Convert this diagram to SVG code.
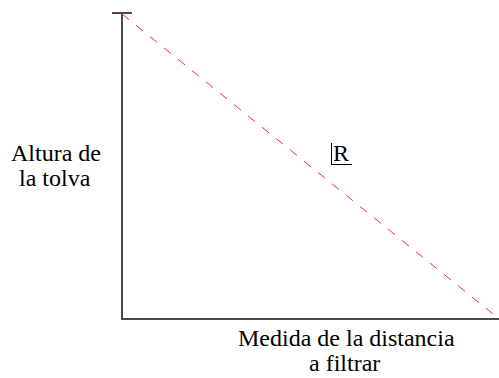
<svg xmlns="http://www.w3.org/2000/svg" width="499" height="378" viewBox="0 0 499 378">
<rect width="499" height="378" fill="#fff"/>
<g id="connectors" stroke="#4a4a4a" stroke-width="2" fill="none">
<line x1="122" y1="13" x2="122" y2="319"/>
<line x1="112" y1="13" x2="132" y2="13"/>
<line x1="121" y1="319" x2="499" y2="319"/>
<line x1="122" y1="14" x2="498" y2="318" stroke="#f03030" stroke-width="1" stroke-dasharray="9,9"/>
</g>
<g id="ylabel">
<text x="11" y="161" font-size="24" font-family="Liberation Serif">Altura de</text>
<text x="19" y="186" font-size="24" font-family="Liberation Serif">la tolva</text>
</g>
<g id="xlabel">
<text x="238" y="346" font-size="24" font-family="Liberation Serif">Medida de la distancia</text>
<text x="309" y="371" font-size="24" font-family="Liberation Serif">a filtrar</text>
</g>
<g id="R">
<text x="333" y="161" font-size="24" font-family="Liberation Serif">R</text>
<line x1="331.5" y1="143" x2="331.5" y2="164" stroke="#000" stroke-width="1"/>
<line x1="331" y1="164.5" x2="352" y2="164.5" stroke="#000" stroke-width="1"/>
</g>
</svg>
